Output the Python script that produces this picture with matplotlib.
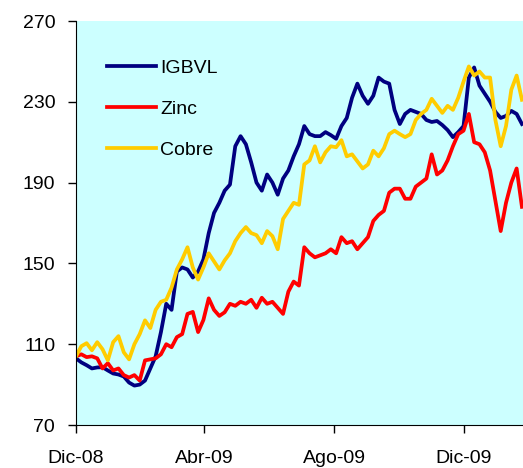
import matplotlib
matplotlib.use("Agg")
import matplotlib.pyplot as plt
import numpy as np
import pandas as pd

plt.rcParams['font.family'] = ['Liberation Sans', 'DejaVu Sans']

# one reading every 5 days from 1 Dec 2008
start = pd.Timestamp("2008-12-01")
dates = pd.date_range(start, periods=85, freq="5D")

igbvl = [103, 101, 99.6, 98, 98.5, 98.6, 97, 95.5, 95, 94,
         91, 89.5, 90, 92, 98, 104, 116, 130, 127, 146,
         148, 147, 143, 146, 152, 165, 175, 180, 186, 189,
         208, 213, 209, 200, 190, 186, 194, 190, 184, 192,
         196, 203, 209, 218, 214, 213, 213, 215, 213.5, 211.7,
         218, 222, 232, 239, 233, 229, 233, 242, 240, 239,
         226, 219, 224, 226, 225, 224, 221, 220, 220.5, 218.5,
         216, 212.5, 215, 218, 242, 247, 238, 234, 230, 225,
         222, 223, 225.5, 224, 219]

zinc = [104, 105, 103.6, 104, 103, 98, 100.6, 97, 98, 94.7,
        93.5, 94.7, 92, 102, 102.5, 103, 105, 110, 108.5, 113.5,
        115, 125, 126, 116, 122, 132.7, 127, 124, 125.8, 130,
        129, 131, 130, 132, 128, 133, 130, 131, 128, 125,
        136, 141, 139, 158, 155, 153, 154, 155, 157, 155,
        163, 160, 161, 157, 160, 163, 171, 174, 176, 185,
        187, 187, 182, 182, 188, 190, 192, 204, 194, 196,
        201, 208, 214, 215.7, 224, 210, 209, 205, 196, 181,
        166, 180, 190, 197, 178]

cobre = [104, 109, 110.5, 107, 111, 107.5, 102, 111, 114, 106,
         102.5, 110, 115, 121.8, 118, 127, 131, 132, 138, 147,
         152, 158, 148, 142, 148, 155, 151, 147, 151.5, 155,
         161, 165, 168, 165, 164, 160, 166, 163.5, 157, 172,
         176, 180, 179, 199, 201, 208, 200, 205, 208, 207.5,
         211, 203, 204, 200.5, 197, 199, 205.8, 203, 207, 214,
         215.7, 214, 212.5, 214, 221, 224, 226, 231.5, 228, 224.5,
         228, 226, 232, 240, 247.5, 243, 245, 242, 242, 221,
         208, 218, 236, 243, 231]

tick_dates = pd.to_datetime(["2008-12-01", "2009-04-01", "2009-08-01", "2009-12-01"])
tick_labels = ["Dic-08", "Abr-09", "Ago-09", "Dic-09"]

fig = plt.figure(figsize=(5.23, 4.68), dpi=100)
ax = fig.add_axes([76 / 523, 1 - 425 / 468, 1 - 76 / 523, 404 / 468])
ax.set_facecolor("#CCFFFF")

ax.plot(dates, igbvl, color="#000080", lw=2.7, label="IGBVL")
ax.plot(dates, zinc, color="#FF0000", lw=2.7, label="Zinc")
ax.plot(dates, cobre, color="#FFCC00", lw=2.7, label="Cobre")

ax.set_ylim(70, 270)
ax.set_yticks([70, 110, 150, 190, 230, 270])
ax.set_xlim(start, start + pd.Timedelta(days=421))
ax.set_xticks(tick_dates)
ax.set_xticklabels(tick_labels)

for s in ["top", "right"]:
    ax.spines[s].set_visible(False)
ax.tick_params(axis="both", labelsize=14, length=6, width=1, direction="out")
ax.tick_params(axis="y", pad=9)
ax.tick_params(axis="x", pad=12)

ax.legend(loc="upper left", bbox_to_anchor=(0.047, 0.93), frameon=False,
          fontsize=14, handlelength=2.55, handletextpad=0.2, labelspacing=1.2,
          borderpad=0)

fig.savefig("out.png", dpi=100)
